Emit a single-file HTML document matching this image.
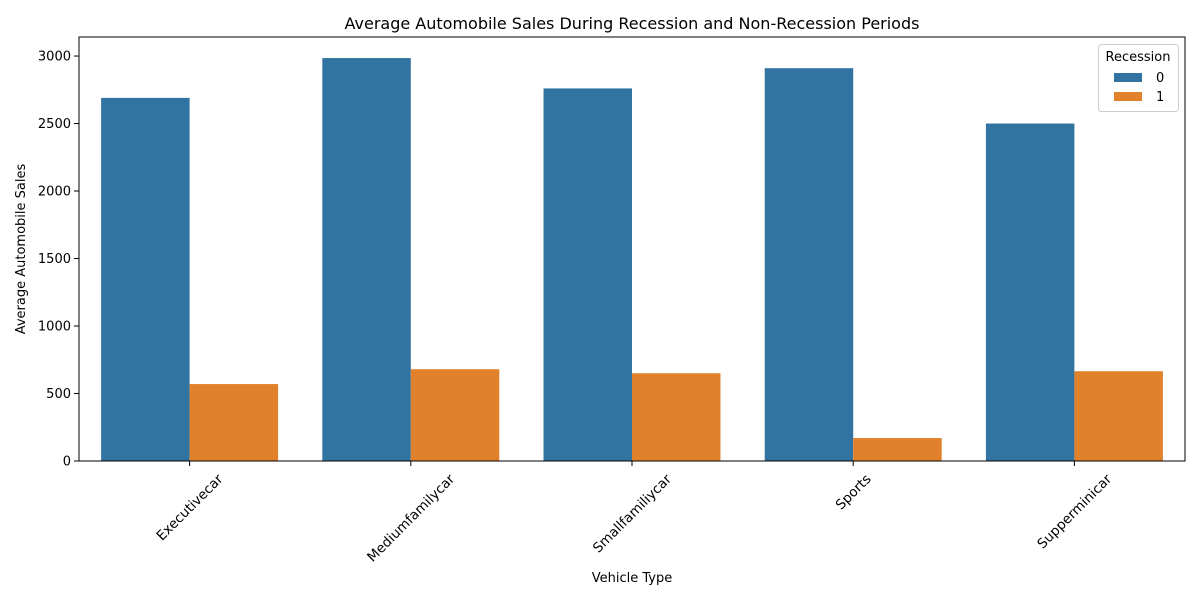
<!DOCTYPE html>
<html><head><meta charset="utf-8"><style>
body{margin:0;background:#fff;}
svg text{font-family:"DejaVu Sans","Liberation Sans",sans-serif;fill:#000;}
</style></head><body>
<svg id="chart" width="1200" height="600" viewBox="0 0 1200 600" xmlns="http://www.w3.org/2000/svg">
<text x="632" y="29" font-size="16" text-anchor="middle">Average Automobile Sales During Recession and Non-Recession Periods</text>
<g id="bars"></g><g id="yaxis"></g><g id="xaxis"></g>
<rect x="79" y="37" width="1106" height="424" fill="none" stroke="#000" stroke-width="1"/>
<text transform="translate(25,249) rotate(-90)" font-size="13" text-anchor="middle">Average Automobile Sales</text>
<text x="632" y="582" font-size="13" text-anchor="middle">Vehicle Type</text>
<g>
<rect x="1098.5" y="44.5" width="80" height="67" rx="3" fill="#fff" fill-opacity="0.8" stroke="#ccc"/>
<text x="1138" y="61" font-size="13" text-anchor="middle">Recession</text>
<rect x="1114" y="73" width="28" height="9" fill="#3274a1"/>
<text x="1156" y="82" font-size="13">0</text>
<rect x="1114" y="92" width="28" height="9" fill="#e1812c"/>
<text x="1156" y="101" font-size="13">1</text>
</g>
</svg>
<script>
const categories=["Executivecar","Mediumfamilycar","Smallfamiliycar","Sports","Supperminicar"];
const nonRecession=[2690,2985,2760,2910,2500];
const recession=[570,680,650,170,665];
const yTicks=[0,500,1000,1500,2000,2500,3000];
const NS="http://www.w3.org/2000/svg";
const L=79,R=1185,B=461,T=37;
const yMax=3141;
const y=v=>B-(v/yMax)*(B-T);
const bw=(R-L)/categories.length;
const x=i=>L+bw*(i+0.5);
const bars=document.getElementById('bars'),ya=document.getElementById('yaxis'),xa=document.getElementById('xaxis');
function mk(tag,attrs,parent){const e=document.createElementNS(NS,tag);for(const k in attrs)e.setAttribute(k,attrs[k]);parent.appendChild(e);return e;}
categories.forEach((c,i)=>{
  const w=bw*0.4;
  const b0=mk('rect',{x:x(i)-w,y:y(nonRecession[i]),width:w,height:B-y(nonRecession[i]),fill:'#3274a1'},bars);
  
  
  const b1=mk('rect',{x:x(i),y:y(recession[i]),width:w,height:B-y(recession[i]),fill:'#e1812c'},bars);
  
  
  mk('line',{x1:x(i),x2:x(i),y1:B,y2:B+5,stroke:'#000'},xa);
  const t=mk('text',{'font-size':13.5,'text-anchor':'middle'},xa);
  t.textContent=c;
  
  
  const len=t.getComputedTextLength();
  const h=(len+13)*0.7071;
  const cy=B+11+h/2;
  t.setAttribute('x',x(i));t.setAttribute('y',cy+4.5);
  t.setAttribute('transform','rotate(-45 '+x(i)+' '+cy+')');
});
yTicks.forEach(v=>{
  mk('line',{x1:L-5,x2:L,y1:y(v),y2:y(v),stroke:'#000'},ya);
  const t=mk('text',{x:L-8,y:y(v)+4.5,'font-size':13,'text-anchor':'end'},ya);
  t.textContent=v;
  
  
});
</script>
</body></html>
